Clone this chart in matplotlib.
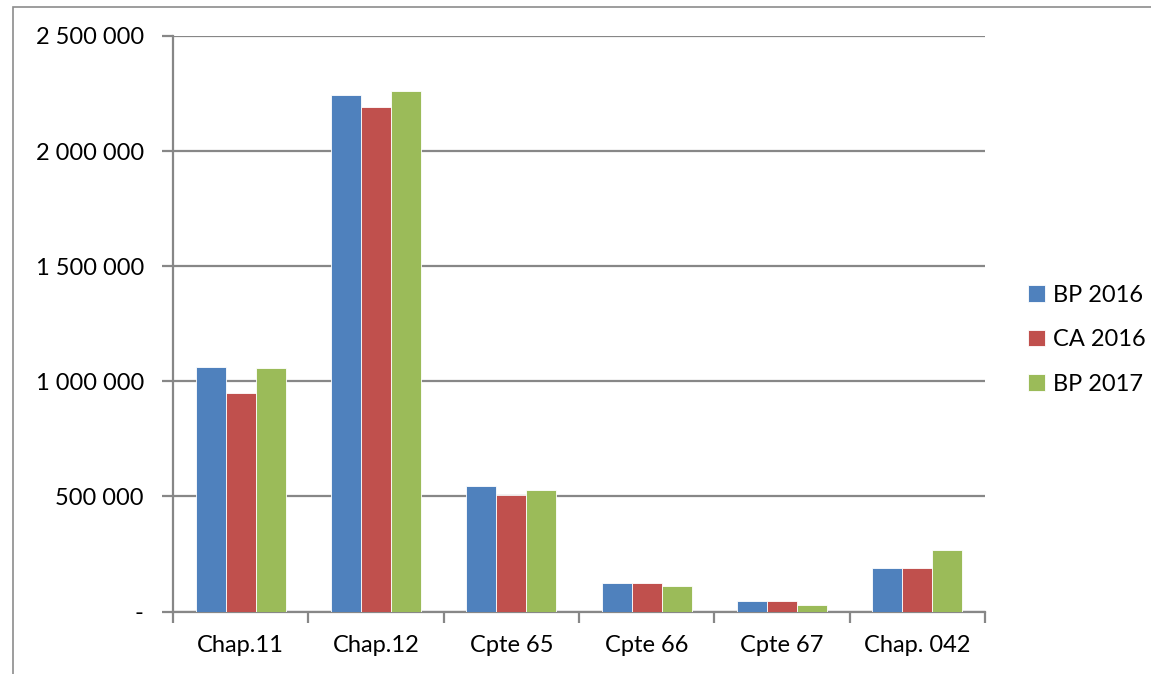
import numpy as np
import matplotlib
import matplotlib.pyplot as plt
from matplotlib.patches import Rectangle
from matplotlib.ticker import FuncFormatter

matplotlib.rcParams["font.family"] = ["Lato", "DejaVu Sans"]

# ── Data ────────────────────────────────────────────────────────────────
categories = ["Chap.11", "Chap.12", "Cpte 65", "Cpte 66", "Cpte 67", "Chap. 042"]
series_names = ["BP 2016", "CA 2016", "BP 2017"]
bp_2016 = [1061000, 2245000, 545000, 124000, 47000, 189000]
ca_2016 = [949000, 2192000, 505000, 124000, 47000, 189000]
bp_2017 = [1058000, 2261000, 526000, 112000, 27000, 266000]
yticks = [0, 500000, 1000000, 1500000, 2000000, 2500000]

colors = ["#4F81BD", "#C0504D", "#9BBB59"]
grid_col = "#878787"
fs = 17

W, H = 1151, 674
fig = plt.figure(figsize=(W / 100, H / 100), dpi=100)
ax = fig.add_axes([173 / W, 1 - 611.5 / H, (985 - 173) / W, (611.5 - 36) / H])

# outer chart border (left + top visible)
fig.patches.append(Rectangle((12.5 / W, -0.05), 1.2, 1.05 - 6.5 / H,
                             transform=fig.transFigure, fill=False,
                             edgecolor="#8c8c8c", linewidth=1.2))

x = np.arange(len(categories))
bw = 0.222
for i, (vals, name) in enumerate(zip([bp_2016, ca_2016, bp_2017], series_names)):
    ax.bar(x + (i - 1) * bw, vals, width=bw, color=colors[i], label=name,
           edgecolor="white", linewidth=0.6, zorder=3)

ax.set_xlim(-0.5, len(categories) - 0.5)
ax.set_ylim(0, 2500000)
ax.set_yticks(yticks)
ax.yaxis.set_major_formatter(FuncFormatter(
    lambda v, p: "-" if v == 0 else f"{int(v):,}".replace(",", " ")))
ax.set_xticks(x)
ax.set_xticklabels(categories)
ax.set_xticks(np.arange(-0.5, len(categories)), minor=True)

ax.grid(axis="y", color=grid_col, linewidth=1.6, zorder=0)
for s in ["top", "right"]:
    ax.spines[s].set_visible(False)
for s in ["left", "bottom"]:
    ax.spines[s].set_color(grid_col)
    ax.spines[s].set_linewidth(1.6)

ax.tick_params(axis="y", length=8, width=1.6, color=grid_col, pad=13,
               labelsize=fs)
ax.tick_params(axis="x", which="major", length=0, pad=17, labelsize=fs)
ax.tick_params(axis="x", which="minor", length=8, width=1.6, color=grid_col)

leg = ax.legend(loc="upper left", bbox_to_anchor=(1.027, 0.605), frameon=False,
                fontsize=fs, handlelength=0.72, handleheight=0.72,
                handletextpad=0.35, labelspacing=1.0)

plt.savefig("out.png", dpi=100, facecolor="white")
